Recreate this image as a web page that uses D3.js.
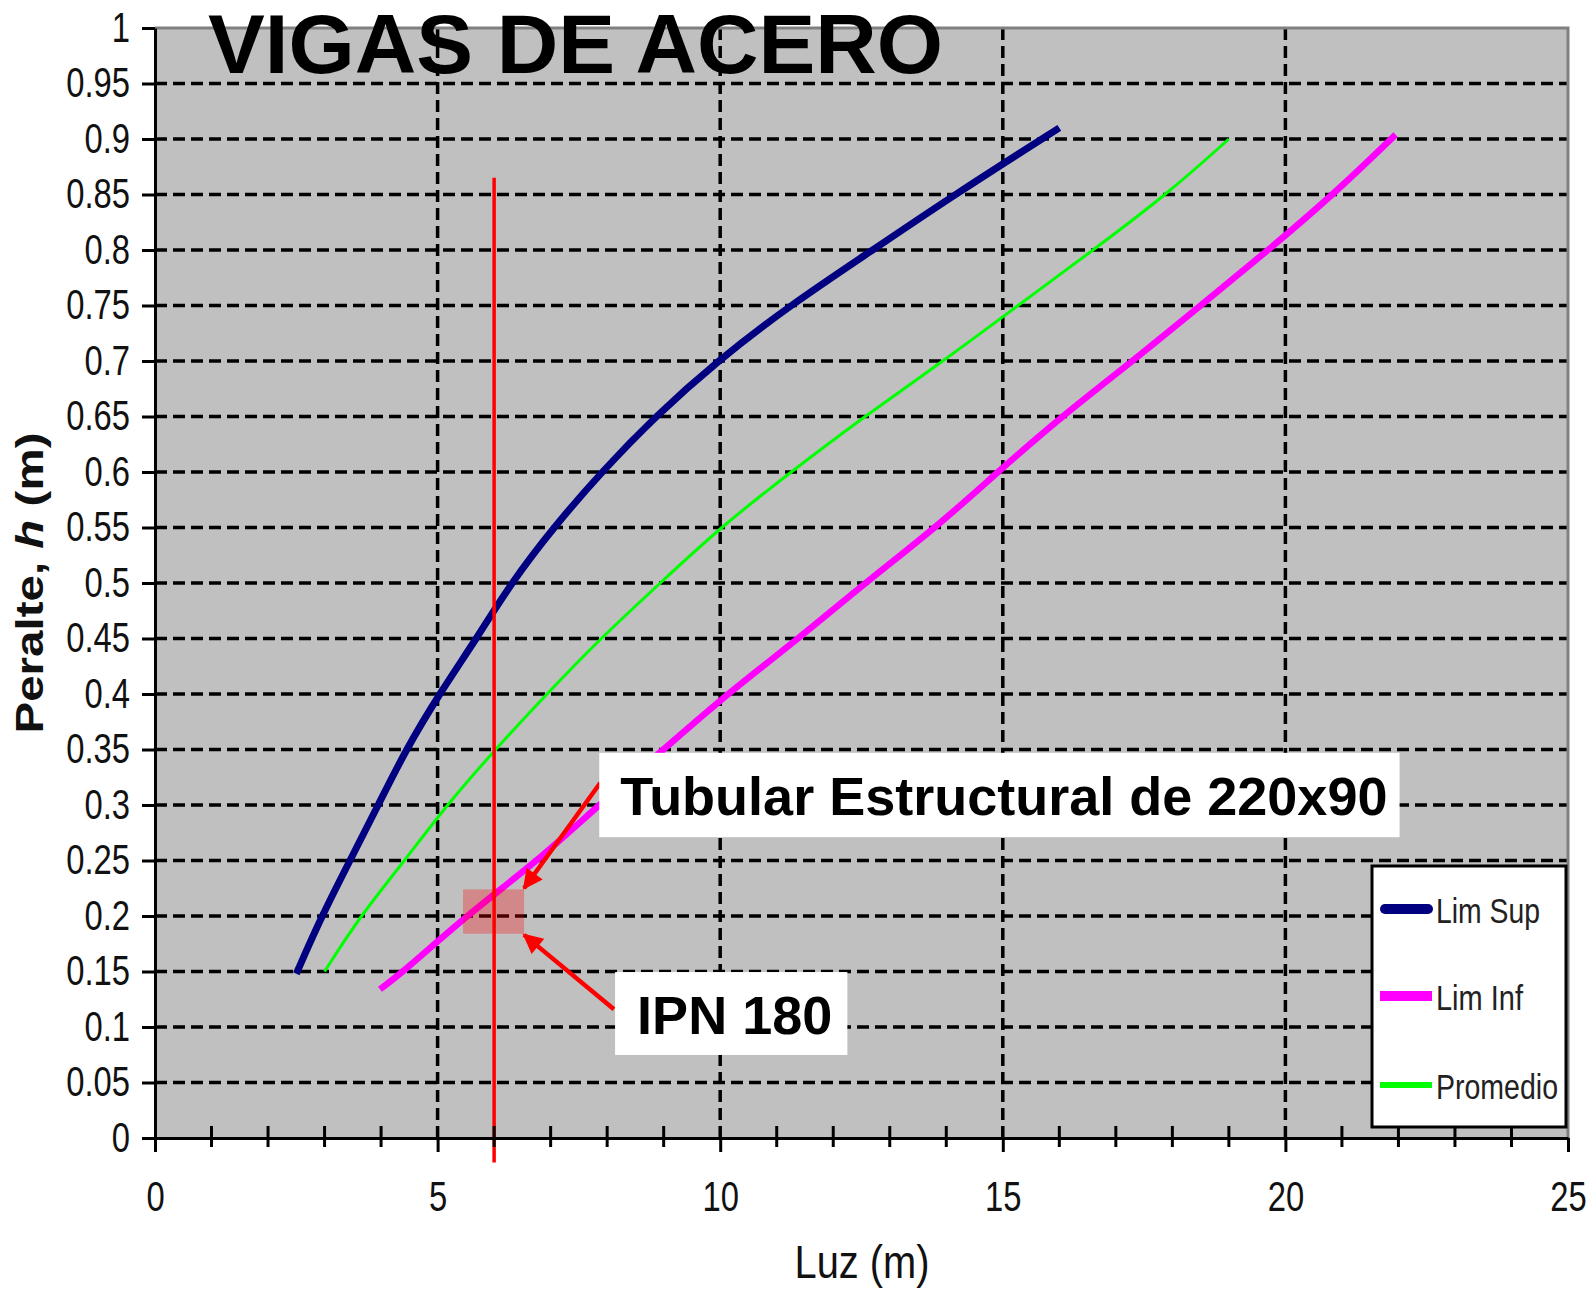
<!DOCTYPE html>
<html>
<head>
<meta charset="utf-8">
<script src="https://cdn.jsdelivr.net/npm/d3@7"></script>
<style>
  body { margin: 0; background: #fff; }
  svg { display: block; font-family: "Liberation Sans", Arial, sans-serif; }
</style>
</head>
<body>
<svg id="chart" width="1590" height="1289"></svg>
<script>
// values: [luz (m), peralte (m)]
const limSup = [[2.5,0.148],[2.95,0.2],[3.45,0.25],[3.95,0.3],[4.44,0.35],[5.03,0.4],[5.69,0.45],
  [6.3,0.5],[7.05,0.55],[7.9,0.6],[8.85,0.65],[9.95,0.7],[11.23,0.75],[12.7,0.8],[14.15,0.85],[16.0,0.91]];
const limInf = [[3.98,0.134],[4.4,0.15],[5.5,0.2],[6.78,0.25],[7.85,0.3],[9.0,0.35],[10.12,0.4],
  [11.39,0.45],[12.56,0.5],[13.82,0.55],[14.91,0.6],[16.04,0.65],[17.3,0.7],[18.5,0.75],[19.7,0.8],
  [20.85,0.85],[21.95,0.904]];
const promedio = [[3.0,0.15],[3.63,0.2],[4.42,0.25],[5.16,0.3],[6.02,0.35],[6.93,0.4],[7.88,0.45],
  [8.94,0.5],[10.0,0.55],[11.25,0.6],[12.55,0.65],[13.95,0.7],[15.27,0.75],[16.6,0.8],[17.9,0.85],[19.0,0.9]];

const seriesNames = ["Lim Sup", "Lim Inf", "Promedio"];
const xTicks = [0, 5, 10, 15, 20, 25];
const xMinorTicks = d3.range(0, 26);
const yTicks = d3.range(0, 21).map(i => +(i * 0.05).toFixed(2));
const yTickLabels = yTicks.map(v => String(v));

// design span and the selected section
const luzDiseno = 6;
const luzLineTop = 0.865, luzLineBottom = -0.022;
const zona = { x0: 5.45, x1: 6.53, y0: 0.184, y1: 0.224 };
const notas = [
  { text: "Tubular Estructural de 220x90", box: [7.86, 22.02, 0.347, 0.271], at: [8.23, 0.291],
    from: [7.88, 0.32], to: [6.53, 0.225] },
  { text: "IPN 180", box: [8.14, 12.25, 0.1495, 0.0748], at: [8.53, 0.0937],
    from: [8.12, 0.116], to: [6.53, 0.183] }
];

const svg = d3.select("#chart");
const pLeft = 155, pRight = 1568, pTop = 28, pBottom = 1138;
const x = d3.scaleLinear().domain([0, 25]).range([pLeft, pRight]);
const y = d3.scaleLinear().domain([0, 1]).range([pBottom, pTop]);

function squeeze(sel, k) {
  sel.each(function() {
    let w = this.getComputedTextLength();
    d3.select(this).attr("textLength", w * k).attr("lengthAdjust", "spacingAndGlyphs");
  });
}

// plot area
svg.append("rect").attr("x", pLeft).attr("y", pTop)
  .attr("width", pRight - pLeft).attr("height", pBottom - pTop).attr("fill", "#c0c0c0");

// grid
let grid = svg.append("g").attr("stroke", "#000").attr("stroke-width", 3.5).attr("stroke-dasharray", "12,6");
grid.selectAll(".h").data(yTicks.filter(v => v > 0 && v < 1)).enter().append("line")
  .attr("x1", pLeft).attr("x2", pRight).attr("y1", d => y(d)).attr("y2", d => y(d));
grid.selectAll(".v").data(xTicks.filter(v => v > 0 && v < 25)).enter().append("line")
  .attr("y1", pBottom).attr("y2", pTop).attr("x1", d => x(d)).attr("x2", d => x(d));

// top / right frame
svg.append("path").attr("d", `M${pLeft},${pTop}H${pRight}V${pBottom}`)
  .attr("fill", "none").attr("stroke", "#808080").attr("stroke-width", 3);

// curves (smoothed through the read points)
let line = d3.line().x(d => x(d[0])).y(d => y(d[1])).curve(d3.curveBasis);
let series = [
  { data: limSup, color: "#000080", width: 7 },
  { data: limInf, color: "#ff00ff", width: 6.5 },
  { data: promedio, color: "#00ff00", width: 3 }
];
svg.append("g").selectAll("path").data(series).enter().append("path")
  .attr("d", d => line(d.data)).attr("fill", "none")
  .attr("stroke", d => d.color).attr("stroke-width", d => d.width);

// design span line and highlighted zone
svg.append("rect").attr("x", x(zona.x0)).attr("y", y(zona.y1))
  .attr("width", x(zona.x1) - x(zona.x0)).attr("height", y(zona.y0) - y(zona.y1))
  .attr("fill", "#ff0000").attr("fill-opacity", 0.29);
svg.append("line").attr("x1", x(luzDiseno)).attr("x2", x(luzDiseno))
  .attr("y1", y(luzLineTop)).attr("y2", y(luzLineBottom))
  .attr("stroke", "#ff0000").attr("stroke-width", 3.5);

// annotations
svg.append("defs").append("marker").attr("id", "head")
  .attr("viewBox", "0 0 10 10").attr("refX", 9).attr("refY", 5)
  .attr("markerUnits", "userSpaceOnUse").attr("markerWidth", 24).attr("markerHeight", 20)
  .attr("orient", "auto")
  .append("path").attr("d", "M0,0L10,5L0,10Z").attr("fill", "#ff0000");
let nota = svg.append("g").selectAll("g").data(notas).enter().append("g");
nota.append("line")
  .attr("x1", d => x(d.from[0])).attr("y1", d => y(d.from[1]))
  .attr("x2", d => x(d.to[0])).attr("y2", d => y(d.to[1]))
  .attr("stroke", "#ff0000").attr("stroke-width", 4.5).attr("marker-end", "url(#head)");
nota.append("rect")
  .attr("x", d => x(d.box[0])).attr("y", d => y(d.box[2]))
  .attr("width", d => x(d.box[1]) - x(d.box[0])).attr("height", d => y(d.box[3]) - y(d.box[2]))
  .attr("fill", "#fff");
nota.append("text").text(d => d.text)
  .attr("x", d => x(d.at[0])).attr("y", d => y(d.at[1]))
  .attr("font-size", 54).attr("font-weight", "bold").attr("fill", "#000");

// axes
let yAxis = svg.append("g").attr("transform", `translate(${pLeft},0)`)
  .call(d3.axisLeft(y).tickValues(yTicks).tickFormat((d, i) => yTickLabels[i])
    .tickSize(13).tickSizeOuter(0).tickPadding(12));
let xAxis = svg.append("g").attr("transform", `translate(0,${pBottom})`)
  .call(d3.axisBottom(x).tickValues(xTicks).tickSize(14).tickSizeOuter(0).tickPadding(29));
svg.append("g").selectAll("line").data(xMinorTicks.filter(v => v % 5 != 0)).enter().append("line")
  .attr("x1", d => x(d)).attr("x2", d => x(d)).attr("y1", pBottom - 12).attr("y2", pBottom + 9)
  .attr("stroke", "#000").attr("stroke-width", 3);
for (let ax of [xAxis, yAxis]) {
  ax.select(".domain").attr("stroke", "#000").attr("stroke-width", 3);
  ax.selectAll(".tick line").attr("stroke", "#000").attr("stroke-width", 3);
  ax.selectAll(".tick text").attr("font-size", 42).attr("fill", "#111")
    .attr("font-family", "'Liberation Sans', Arial, sans-serif").call(squeeze, 0.78);
}

// axis titles
svg.append("text").text("Luz (m)")
  .attr("x", 862).attr("y", 1278).attr("text-anchor", "middle")
  .attr("font-size", 46).attr("fill", "#111").attr("textLength", 135).attr("lengthAdjust", "spacingAndGlyphs");
let yTitle = svg.append("text")
  .attr("transform", "translate(43,583) rotate(-90)").attr("text-anchor", "middle")
  .attr("font-size", 39).attr("font-weight", "bold").attr("fill", "#111");
yTitle.append("tspan").text("Peralte, ");
yTitle.append("tspan").text("h").attr("font-style", "italic");
yTitle.append("tspan").text(" (m)");
yTitle.attr("textLength", 301).attr("lengthAdjust", "spacingAndGlyphs");

// legend
let legend = svg.append("g");
legend.append("rect").attr("x", 1372).attr("y", 866).attr("width", 194).attr("height", 261)
  .attr("fill", "#fff").attr("stroke", "#000").attr("stroke-width", 3);
let legendRows = [
  { name: seriesNames[0], color: "#000080", width: 10, cap: "round", y: 909, len: 104 },
  { name: seriesNames[1], color: "#ff00ff", width: 10, cap: "butt", y: 996, len: 87 },
  { name: seriesNames[2], color: "#00ff00", width: 6, cap: "butt", y: 1085, len: 122 }
];
let row = legend.selectAll(".row").data(legendRows).enter().append("g");
row.append("line").attr("x1", d => d.cap == "round" ? 1385 : 1380).attr("x2", d => d.cap == "round" ? 1428 : 1432)
  .attr("y1", d => d.y).attr("y2", d => d.y)
  .attr("stroke", d => d.color).attr("stroke-width", d => d.width).attr("stroke-linecap", d => d.cap);
row.append("text").text(d => d.name).attr("x", 1436).attr("y", d => d.y + 14)
  .attr("font-size", 35).attr("fill", "#222")
  .attr("textLength", d => d.len).attr("lengthAdjust", "spacingAndGlyphs");

// title
svg.append("text").text("VIGAS DE ACERO")
  .attr("x", 208).attr("y", 73).attr("font-size", 84).attr("font-weight", "bold").attr("fill", "#000")
  .attr("textLength", 735).attr("lengthAdjust", "spacingAndGlyphs");
</script>
</body>
</html>
